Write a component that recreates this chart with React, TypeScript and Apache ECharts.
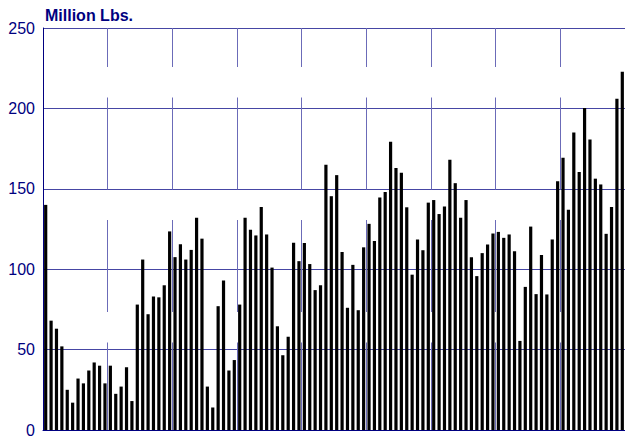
import React, { useEffect, useRef } from "react";
import * as echarts from "echarts";

const years = ["Y1", "Y2", "Y3", "Y4", "Y5", "Y6", "Y7", "Y8", "Y9"];
const months = ["Jan", "Feb", "Mar", "Apr", "May", "Jun", "Jul", "Aug", "Sep", "Oct", "Nov", "Dec"];
const categories: string[] = [];
years.forEach((y) => months.forEach((m) => categories.push(m + " " + y)));

const values = [
  140, 68, 63, 52, 25, 17, 32, 29, 37, 42, 40, 29,
  40, 22.5, 27, 39, 18, 78, 106, 72, 83, 82.5, 90, 123.5,
  107.5, 115.5, 106, 112, 132, 119, 27, 14, 77, 93, 37, 43.5,
  78, 132, 124.5, 121, 138.7, 121.6, 101, 64.5, 46.5, 58, 116.5, 105,
  116.3, 103.2, 87, 90, 165, 145.4, 158.5, 110.7, 76, 102.7, 74.5, 113.6,
  128.2, 117.6, 144.6, 148, 179.3, 163, 160, 138.5, 96.6, 118.5, 111.8, 141.4,
  143, 134.3, 139, 168, 153.5, 132, 143, 107.5, 95.7, 110, 115.3, 122.2,
  123.2, 119.5, 121.6, 111.2, 55.4, 89, 126.5, 84.5, 108.8, 84.3, 118.5, 154.7,
  169.3, 137, 185, 160.5, 200.3, 180.7, 156.3, 152.7, 122, 138.7, 206, 222.8,
];

const yTicks = { min: 0, max: 250, interval: 50 };
const title = "Million Lbs.";

export default function App() {
  const ref = useRef<HTMLDivElement>(null);
  useEffect(() => {
    document.body.style.margin = "0";
    const chart = echarts.init(ref.current!, undefined, { renderer: "svg" });
    chart.setOption({
      animation: false,
      backgroundColor: "#ffffff",
      title: {
        text: title,
        left: 40,
        top: 2,
        textStyle: { color: "#000080", fontSize: 16, fontWeight: "bold", fontFamily: "Arial, Liberation Sans, sans-serif" },
      },
      grid: { left: 43, top: 28, width: 584, height: 407 },
      xAxis: {
        type: "category",
        data: categories,
        axisLine: { show: true, lineStyle: { color: "#000080", width: 1 } },
        axisTick: { show: false },
        axisLabel: { show: false },
        splitLine: {
          show: true,
          interval: 11,
          lineStyle: { color: "#6b6bb8", width: 1, type: [92, 30.5], dashOffset: 52.5 },
        },
      },
      yAxis: {
        type: "value",
        min: yTicks.min,
        max: yTicks.max,
        interval: yTicks.interval,
        axisLine: { show: true, lineStyle: { color: "#000080", width: 1 } },
        axisTick: { show: false },
        axisLabel: { color: "#000080", fontSize: 16, margin: 8, fontFamily: "Arial, Liberation Sans, sans-serif" },
        splitLine: { show: true, lineStyle: { color: "#4646a4", width: 1 } },
      },
      series: [
        {
          type: "bar",
          data: values,
          barWidth: 3.2,
          itemStyle: { color: "#000000" },
        },
      ],
    });
    return () => chart.dispose();
  }, []);
  return <div ref={ref} style={{ width: 625, height: 438 }} />;
}
